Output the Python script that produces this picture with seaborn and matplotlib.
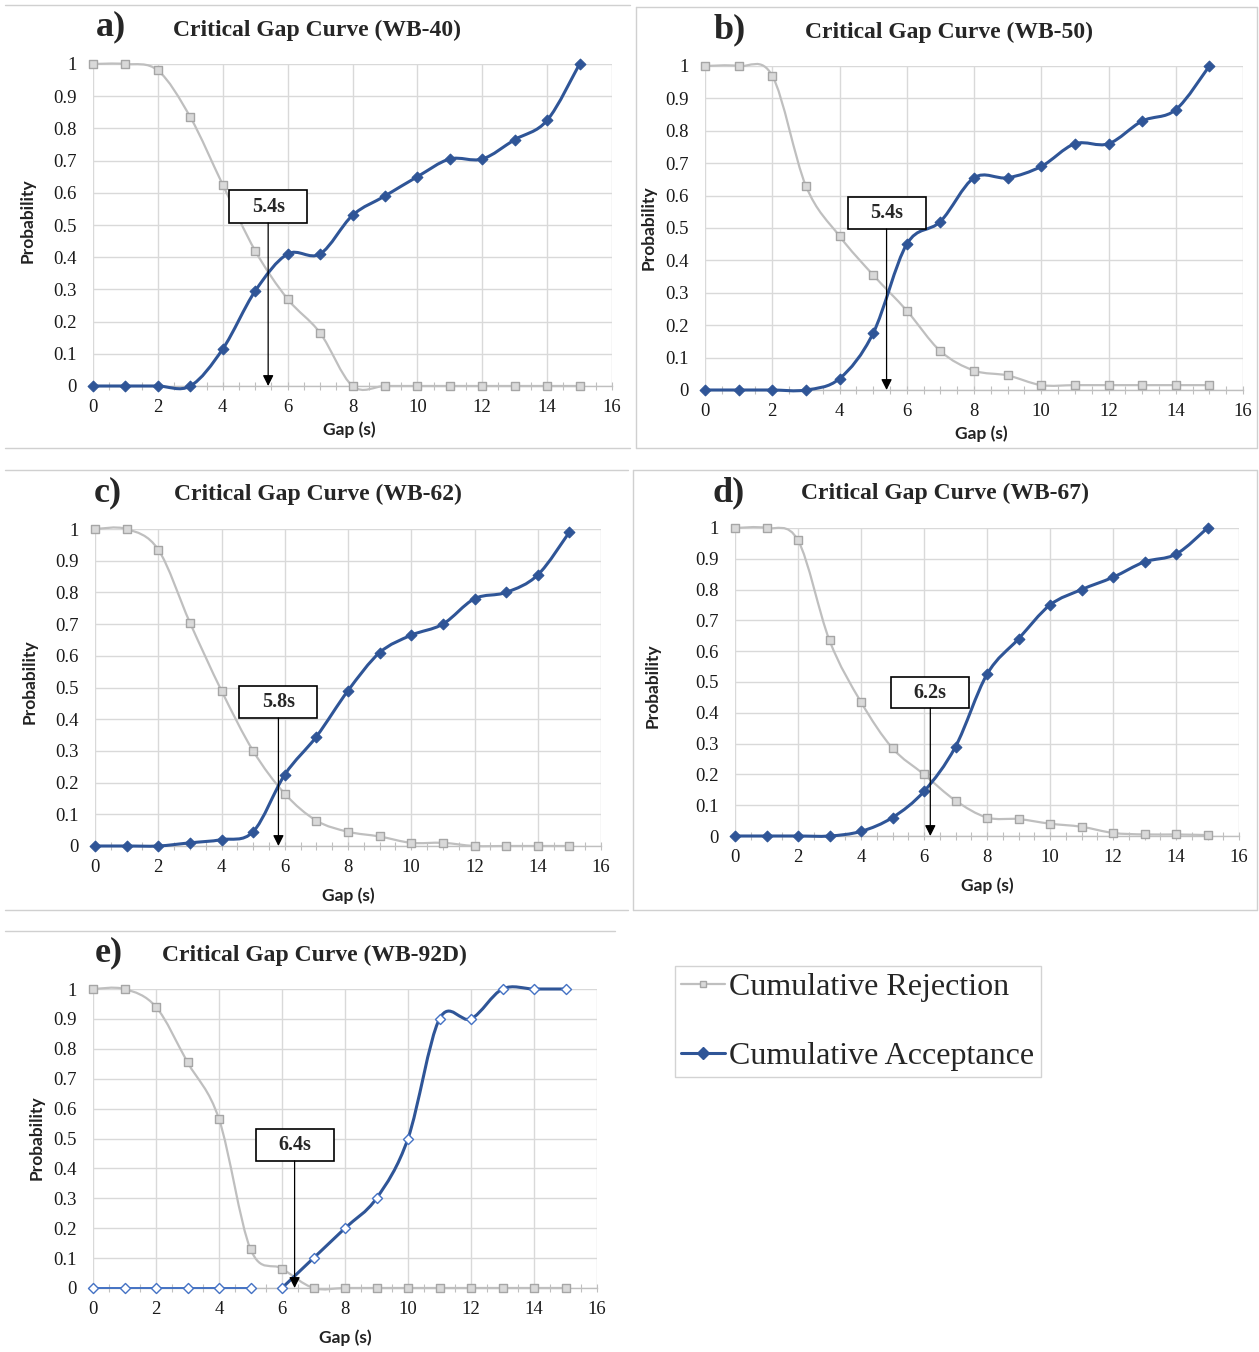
import numpy as np
import pandas as pd
import matplotlib
matplotlib.use("Agg")
import matplotlib.pyplot as plt
import seaborn as sns
from matplotlib.path import Path
from matplotlib.patches import PathPatch, Rectangle
from matplotlib.lines import Line2D

# ---------------- data ----------------
gap = list(range(16))

rej_wb40 = [1, 1, 0.98, 0.835, 0.625, 0.42, 0.27, 0.165, 0, 0, 0, 0, 0, 0, 0, 0]
acc_wb40 = [0, 0, 0, 0, 0.115, 0.295, 0.41, 0.41, 0.53, 0.59, 0.65, 0.705, 0.705, 0.765, 0.825, 1.0]

rej_wb50 = [1, 1, 0.97, 0.63, 0.475, 0.355, 0.245, 0.12, 0.06, 0.045, 0.015, 0.015, 0.015, 0.015, 0.015, 0.015]
acc_wb50 = [0, 0, 0, 0, 0.035, 0.175, 0.45, 0.52, 0.655, 0.655, 0.69, 0.76, 0.76, 0.83, 0.865, 1.0]

rej_wb62 = [1, 1, 0.935, 0.705, 0.49, 0.30, 0.165, 0.08, 0.045, 0.03, 0.01, 0.01, 0, 0, 0, 0]
acc_wb62 = [0, 0, 0, 0.01, 0.02, 0.045, 0.225, 0.345, 0.49, 0.61, 0.665, 0.70, 0.78, 0.80, 0.855, 0.99]

rej_wb67 = [1, 1, 0.96, 0.635, 0.435, 0.285, 0.20, 0.115, 0.06, 0.055, 0.04, 0.03, 0.01, 0.005, 0.005, 0.003]
acc_wb67 = [0, 0, 0, 0, 0.015, 0.06, 0.145, 0.29, 0.525, 0.64, 0.75, 0.80, 0.84, 0.89, 0.915, 1.0]

rej_wb92d = [1, 1, 0.94, 0.755, 0.565, 0.13, 0.065, 0, 0, 0, 0, 0, 0, 0, 0, 0]
acc_wb92d = [0, 0, 0, 0, 0, 0, 0, 0.1, 0.2, 0.3, 0.5, 0.9, 0.9, 1.0, 1.0, 1.0]

panel_letters = ["a)", "b)", "c)", "d)", "e)"]
sites = ["WB-40", "WB-50", "WB-62", "WB-67", "WB-92D"]
critical_gaps = [5.4, 5.4, 5.8, 6.2, 6.4]
x_ticks = [0, 2, 4, 6, 8, 10, 12, 14, 16]
y_ticks = [0, 0.1, 0.2, 0.3, 0.4, 0.5, 0.6, 0.7, 0.8, 0.9, 1]
y_tick_labels = ["0", "0.1", "0.2", "0.3", "0.4", "0.5", "0.6", "0.7", "0.8", "0.9", "1"]
series_names = ["Cumulative Rejection", "Cumulative Acceptance"]

rejections = [rej_wb40, rej_wb50, rej_wb62, rej_wb67, rej_wb92d]
acceptances = [acc_wb40, acc_wb50, acc_wb62, acc_wb67, acc_wb92d]

# ---------------- style ----------------
W, H = 1259, 1352
sns.set_theme(style="white")
plt.rcParams["font.family"] = ["Liberation Serif", "DejaVu Serif"]
SANS = ["Lato", "DejaVu Sans"]
SERIF = ["Liberation Serif", "DejaVu Serif"]

GRAY_LINE = "#BFBFBF"
GRAY_MK_EDGE = "#A6A6A6"
GRAY_MK_FACE = "#D9D9D9"
BLUE = "#2F5597"
LIGHT_BLUE = "#4472C4"
GRID = "#D9D9D9"

fig = plt.figure(figsize=(W / 100, H / 100), dpi=100)


def fx(px):
    return px / W


def fy(py):
    return 1 - py / H


def smooth_path(xs, ys):
    pts = np.column_stack([xs, ys]).astype(float)
    n = len(pts)
    verts = [pts[0]]
    codes = [Path.MOVETO]
    for i in range(n - 1):
        p0 = pts[i - 1] if i > 0 else pts[i]
        p1 = pts[i]
        p2 = pts[i + 1]
        p3 = pts[i + 2] if i + 2 < n else pts[i + 1]
        c1 = p1 + (p2 - p0) / 6.0
        c2 = p2 - (p3 - p1) / 6.0
        verts += [c1, c2, p2]
        codes += [Path.CURVE4] * 3
    return Path(verts, codes)


# panel geometry in pixels: left, right, top, bottom
geom = [
    (93, 612, 64, 386),
    (705, 1243, 66, 390),
    (95, 601, 529, 846),
    (735, 1239, 528, 836),
    (93, 597, 989, 1288),
]
letter_pos = [(111, 27), (730, 30), (108, 493), (729, 493), (109, 953)]
title_pos = [(317, 30), (949, 32), (318, 494), (945, 493), (314, 955)]
ylab_pos = [(28, 221), (649, 228), (30, 682), (653, 686), (37, 1138)]
xlab_pos = [(349, 430), (981, 434), (348, 896), (987, 886), (345, 1338)]
box_pos = [(190, 223), (197, 229), (686, 718), (677, 708), (1129, 1161)]
BOX_W = 78

for k in range(5):
    l, r, t, b = geom[k]
    ax = fig.add_axes([fx(l), fy(b), fx(r) - fx(l), (b - t) / H])
    ax.set_xlim(0, 16)
    ax.set_ylim(0, 1)
    ax.set_facecolor("white")
    for s in ["left", "right", "top"]:
        ax.spines[s].set_visible(False)
    ax.spines["bottom"].set_color(GRAY_LINE)
    ax.spines["bottom"].set_linewidth(1.0)
    ax.set_xticks(x_ticks)
    ax.set_xticks(np.arange(0, 16.01, 0.5), minor=True)
    ax.set_yticks(y_ticks)
    ax.set_yticklabels(y_tick_labels)
    ax.grid(True, which="major", color=GRID, linewidth=1.0)
    ax.set_axisbelow(True)
    ax.tick_params(axis="x", which="both", direction="inout", length=6,
                   width=0.8, color=GRAY_LINE, bottom=True, labelsize=13.5, pad=6)
    ax.tick_params(axis="y", which="both", length=0, labelsize=13.5, pad=12)
    for lab in ax.get_xticklabels() + ax.get_yticklabels():
        lab.set_fontfamily(SERIF)
        lab.set_color("#1a1a1a")

    rej = rejections[k]
    acc = acceptances[k]

    ax.add_patch(PathPatch(smooth_path(gap, rej), facecolor="none",
                           edgecolor=GRAY_LINE, lw=1.6, zorder=3, clip_on=False))
    if k < 4:
        ax.add_patch(PathPatch(smooth_path(gap, acc), facecolor="none",
                               edgecolor=BLUE, lw=2.2, zorder=4, clip_on=False))
    else:
        ax.add_patch(PathPatch(smooth_path(gap[:6], acc[:6]), facecolor="none",
                               edgecolor=LIGHT_BLUE, lw=1.4, zorder=4, clip_on=False))
        ax.add_patch(PathPatch(smooth_path(gap[6:], acc[6:]), facecolor="none",
                               edgecolor=BLUE, lw=2.2, zorder=4, clip_on=False))

    df = pd.DataFrame({"gap": gap, "rej": rej, "acc": acc})
    sns.scatterplot(data=df, x="gap", y="rej", marker="s", s=26,
                    color=GRAY_MK_FACE, edgecolor=GRAY_MK_EDGE, linewidth=1.0,
                    ax=ax, zorder=5, clip_on=False, legend=False)
    if k < 4:
        sns.scatterplot(data=df, x="gap", y="acc", marker="D", s=30,
                        color=BLUE, edgecolor=BLUE, linewidth=0.8,
                        ax=ax, zorder=6, clip_on=False, legend=False)
    else:
        sns.scatterplot(data=df, x="gap", y="acc", marker="D", s=26,
                        color="white", edgecolor=LIGHT_BLUE, linewidth=1.0,
                        ax=ax, zorder=6, clip_on=False, legend=False)
    ax.set_xlabel("")
    ax.set_ylabel("")

    cg = critical_gaps[k]
    bt, bb = box_pos[k]
    y_top = (b - bt) / (b - t)
    y_bot = (b - bb) / (b - t)
    half_w = (BOX_W / 2) / (r - l) * 16
    ax.add_patch(Rectangle((cg - half_w, y_bot), 2 * half_w, y_top - y_bot,
                           facecolor="white", edgecolor="black", lw=1.2, zorder=8))
    ax.text(cg, (y_top + y_bot) / 2, f"{cg}s", ha="center", va="center",
            fontsize=14.5, fontweight="bold", family=SERIF, zorder=9)
    ax.annotate("", xy=(cg, 0.0), xytext=(cg, y_bot),
                arrowprops=dict(arrowstyle="-|>", color="black", lw=0.9,
                                mutation_scale=16, shrinkA=0, shrinkB=0),
                zorder=9)

    fig.text(fx(letter_pos[k][0]), fy(letter_pos[k][1]), panel_letters[k],
             ha="center", va="center", fontsize=26, fontweight="bold", family=SERIF)
    fig.text(fx(title_pos[k][0]), fy(title_pos[k][1]), f"Critical Gap Curve ({sites[k]})",
             ha="center", va="center", fontsize=17, fontweight="bold", family=SERIF)
    fig.text(fx(ylab_pos[k][0]), fy(ylab_pos[k][1]), "Probability", rotation=90,
             ha="center", va="center", fontsize=12.5, fontweight="bold", family=SANS,
             color="#222222")
    fig.text(fx(xlab_pos[k][0]), fy(xlab_pos[k][1]), "Gap (s)",
             ha="center", va="center", fontsize=12.5, fontweight="bold", family=SANS,
             color="#222222")

SEP = "#D0D0D0"


def hline(y, x0, x1):
    fig.add_artist(Line2D([fx(x0), fx(x1)], [fy(y), fy(y)], transform=fig.transFigure,
                          color=SEP, lw=1))


def vline(x, y0, y1):
    fig.add_artist(Line2D([fx(x), fx(x)], [fy(y0), fy(y1)], transform=fig.transFigure,
                          color=SEP, lw=1))


hline(5, 5, 630)
hline(448, 5, 630)
hline(7, 636, 1257); hline(448, 636, 1257); vline(636, 7, 448); vline(1257, 7, 448)
hline(470, 5, 628)
hline(910, 5, 628)
hline(470, 633, 1257); hline(910, 633, 1257); vline(633, 470, 910); vline(1257, 470, 910)
hline(931, 5, 615)

handles = [
    Line2D([], [], color=GRAY_LINE, lw=1.6, marker="s", markersize=5,
           markerfacecolor=GRAY_MK_FACE, markeredgecolor=GRAY_MK_EDGE),
    Line2D([], [], color=BLUE, lw=2.2, marker="D", markersize=6,
           markerfacecolor=BLUE, markeredgecolor=BLUE),
]
leg = fig.legend(handles, series_names, loc="upper left",
                 bbox_to_anchor=(fx(675), fy(966)), frameon=True, fancybox=False,
                 prop={"family": SERIF, "size": 23}, handlelength=1.35,
                 handletextpad=0.15, labelspacing=1.25, borderpad=0.2,
                 borderaxespad=0, edgecolor="#C8C8C8")
leg.get_frame().set_linewidth(1.0)

fig.savefig("out.png", dpi=100, facecolor="white")
